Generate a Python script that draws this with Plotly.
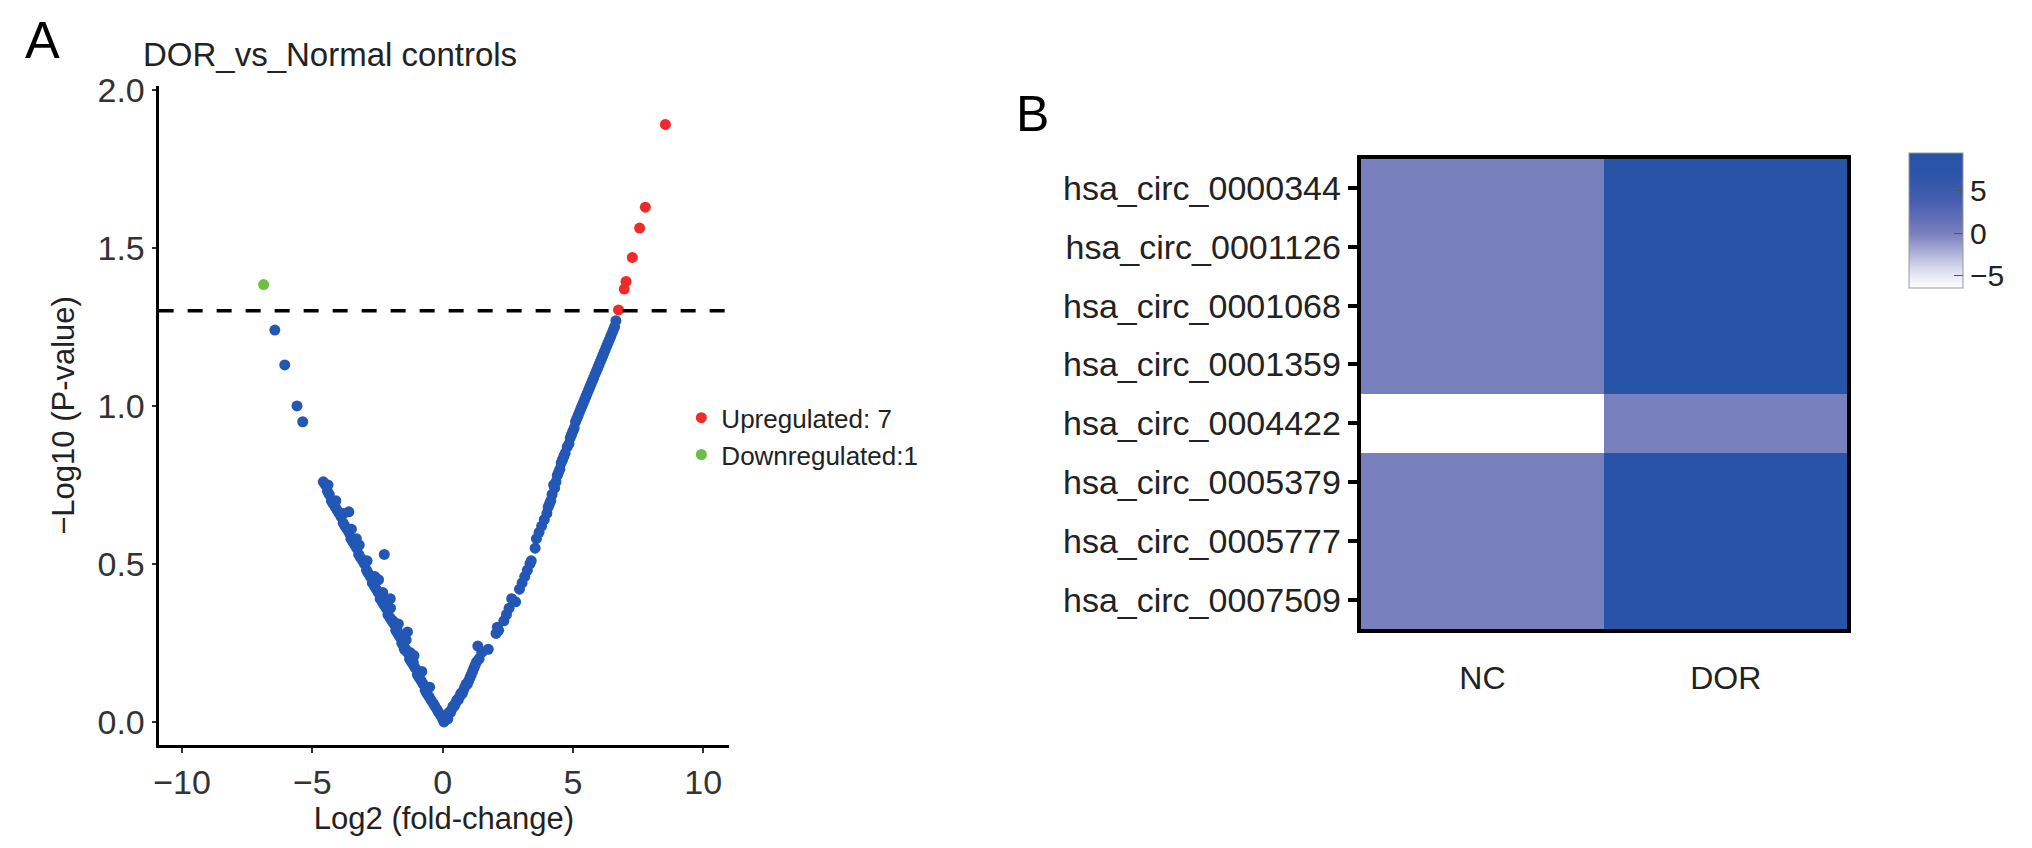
import plotly.graph_objects as go

# ---- panel A: volcano plot data (log2 fold-change, -log10 p) ----
# not significant, left arm (dense band)
left_band = [
    (-4.58, 0.76), (-4.50, 0.75), (-4.42, 0.73), (-4.35, 0.72), (-4.27, 0.70),
    (-4.20, 0.69), (-4.12, 0.68), (-4.05, 0.67), (-3.97, 0.66), (-3.90, 0.65),
    (-3.82, 0.63), (-3.75, 0.62), (-3.67, 0.61), (-3.60, 0.60), (-3.52, 0.58),
    (-3.45, 0.57), (-3.37, 0.56), (-3.30, 0.55), (-3.22, 0.53), (-3.15, 0.52),
    (-3.07, 0.51), (-3.00, 0.50), (-2.92, 0.48), (-2.85, 0.47), (-2.77, 0.46),
    (-2.70, 0.44), (-2.62, 0.43), (-2.55, 0.42), (-2.47, 0.41), (-2.40, 0.39),
    (-2.32, 0.38), (-2.25, 0.37), (-2.17, 0.36), (-2.10, 0.34), (-2.02, 0.33),
    (-1.95, 0.32), (-1.87, 0.31), (-1.80, 0.29), (-1.72, 0.28), (-1.65, 0.27),
    (-1.57, 0.25), (-1.50, 0.24), (-1.42, 0.23), (-1.35, 0.22), (-1.27, 0.20),
    (-1.20, 0.19), (-1.12, 0.18), (-1.05, 0.17), (-0.97, 0.15), (-0.90, 0.14),
    (-0.82, 0.13), (-0.75, 0.12), (-0.67, 0.10), (-0.60, 0.09), (-0.52, 0.08),
    (-0.45, 0.07), (-0.37, 0.06), (-0.30, 0.05), (-0.22, 0.04), (-0.15, 0.03),
    (-0.07, 0.02), (0.00, 0.01),
    (-4.40, 0.75), (-4.10, 0.70), (-3.80, 0.66), (-3.50, 0.61), (-3.20, 0.56),
    (-2.90, 0.51), (-2.60, 0.46), (-2.30, 0.41), (-2.00, 0.36), (-1.70, 0.31),
    (-1.40, 0.26), (-1.10, 0.21), (-0.80, 0.16), (-0.50, 0.11),
]
# scattered points above the left arm and the far-left tail
left_extra = [
    (-6.44, 1.24), (-6.06, 1.13), (-5.59, 1.00), (-5.37, 0.95),
    (-3.60, 0.665), (-3.31, 0.58), (-2.24, 0.53), (-2.46, 0.45),
    (-2.21, 0.39), (-2.01, 0.39), (-2.06, 0.36), (-1.91, 0.32),
    (-1.35, 0.285), (-1.47, 0.23), (-1.13, 0.19), (-1.75, 0.29),
    (-1.60, 0.27), (-1.25, 0.22),
]
# not significant, right arm
right_arm = [
    (0.05, 0.00), (0.10, 0.01), (0.15, 0.02), (0.20, 0.01), (0.25, 0.03),
    (0.30, 0.03), (0.35, 0.04), (0.40, 0.05), (0.45, 0.05), (0.50, 0.06),
    (0.55, 0.07), (0.60, 0.07), (0.65, 0.08), (0.70, 0.09), (0.75, 0.09),
    (0.80, 0.10), (0.85, 0.11), (0.90, 0.12), (0.95, 0.12), (1.00, 0.13),
    (1.05, 0.14), (1.10, 0.15), (1.15, 0.16), (1.20, 0.17), (1.25, 0.18),
    (1.30, 0.19), (1.35, 0.24), (1.40, 0.20), (1.50, 0.22), (1.75, 0.23),
    (2.05, 0.28), (2.10, 0.30), (2.15, 0.29), (2.35, 0.32), (2.45, 0.34),
    (2.55, 0.36), (2.65, 0.39), (2.80, 0.38), (2.95, 0.42), (3.05, 0.44),
    (3.15, 0.46), (3.25, 0.48), (3.35, 0.50), (3.40, 0.51), (3.55, 0.55),
    (3.60, 0.58), (3.70, 0.60), (3.80, 0.62), (3.90, 0.64), (4.00, 0.66),
    (4.05, 0.68), (4.10, 0.69), (4.15, 0.70), (4.20, 0.72), (4.26, 0.75),
    (4.30, 0.74), (4.35, 0.76), (4.40, 0.78), (4.45, 0.79), (4.50, 0.80),
    (4.55, 0.82), (4.60, 0.83), (4.65, 0.84), (4.70, 0.85), (4.78, 0.87),
    (4.85, 0.88), (4.90, 0.90), (4.95, 0.91), (5.00, 0.92), (5.05, 0.93),
    (5.10, 0.95), (5.15, 0.96), (5.20, 0.97), (5.25, 0.98), (5.30, 0.99),
    (5.35, 1.00), (5.40, 1.01), (5.45, 1.02), (5.50, 1.03), (5.55, 1.04),
    (5.60, 1.05), (5.65, 1.06), (5.70, 1.07), (5.75, 1.08), (5.80, 1.09),
    (5.85, 1.10), (5.90, 1.11), (5.95, 1.12), (6.00, 1.13), (6.05, 1.14),
    (6.10, 1.15), (6.15, 1.16), (6.20, 1.17), (6.25, 1.18), (6.30, 1.19),
    (6.35, 1.20), (6.40, 1.21), (6.45, 1.22), (6.50, 1.23), (6.55, 1.24),
    (6.60, 1.25), (6.65, 1.27),
]
up_fc = [6.75, 6.97, 7.04, 7.28, 7.56, 7.78, 8.55]
up_p = [1.304, 1.370, 1.394, 1.470, 1.563, 1.629, 1.891]
down_fc = [-6.87]
down_p = [1.384]

p_cutoff = 1.301  # -log10(0.05)

# ---- panel B: heatmap ----
circ_ids = ["hsa_circ_0000344", "hsa_circ_0001126", "hsa_circ_0001068",
            "hsa_circ_0001359", "hsa_circ_0004422", "hsa_circ_0005379",
            "hsa_circ_0005777", "hsa_circ_0007509"]
groups = ["NC", "DOR"]
nc_expr = [0.0, 0.0, 0.0, 0.0, -6.4, 0.0, 0.0, 0.0]
dor_expr = [8.6, 8.4, 8.4, 8.4, 0.0, 8.9, 8.9, 8.9]

FONT = "Liberation Sans, Arial, sans-serif"
W, H = 2032, 848

ns = left_band + left_extra + right_arm
ns_fc = [p[0] for p in ns]
ns_p = [p[1] for p in ns]

fig = go.Figure()

fig.add_trace(go.Scatter(
    x=ns_fc, y=ns_p, mode="markers", showlegend=False,
    marker=dict(color="#2257B5", size=11, line=dict(width=0)),
    xaxis="x", yaxis="y"))
fig.add_trace(go.Scatter(
    x=up_fc, y=up_p, mode="markers", name="Upregulated: 7",
    marker=dict(color="#EE2A2A", size=11, line=dict(width=0)),
    xaxis="x", yaxis="y"))
fig.add_trace(go.Scatter(
    x=down_fc, y=down_p, mode="markers", name="Downregulated:1",
    marker=dict(color="#6CBE45", size=11, line=dict(width=0)),
    xaxis="x", yaxis="y"))

fig.add_trace(go.Heatmap(
    x=groups, y=circ_ids,
    z=[[a, b] for a, b in zip(nc_expr, dor_expr)],
    zmin=-6.4, zmax=9.5,
    colorscale=[[0.0, "#FFFFFF"], [0.15, "#D6D8EC"], [0.40, "#7A80BE"],
                [0.62, "#4A60B2"], [0.85, "#2A55A8"], [1.0, "#2654A8"]],
    showscale=True, xaxis="x2", yaxis="y2",
    colorbar=dict(
        x=1901 / W, xanchor="left", y=1 - 132 / H, yanchor="top",
        len=137 / H, lenmode="fraction", thickness=54, xpad=0, ypad=0,
        outlinecolor="#999999", outlinewidth=1,
        tickvals=[-5, 0, 5], ticks="inside", ticklen=9, tickcolor="#555555",
        tickfont=dict(family=FONT, size=30, color="#222222"))))

fig.add_shape(type="line", xref="x domain", yref="y", x0=0, x1=1.01,
              y0=p_cutoff, y1=p_cutoff,
              line=dict(color="black", width=3.5, dash="15px,14px"))

axis_font = dict(family=FONT, size=34, color="#333333")
title_font = dict(family=FONT, size=31, color="#222222")
fig.update_layout(
    width=W, height=H, margin=dict(l=0, r=0, t=0, b=0),
    paper_bgcolor="white", plot_bgcolor="white",
    font=dict(family=FONT, color="#222222"),
    xaxis=dict(domain=[146 / W, 718 / W], range=[-10.9, 11.0],
               tickvals=[-10, -5, 0, 5, 10], showgrid=False, zeroline=False,
               showline=True, linecolor="black", linewidth=3.2,
               ticks="outside", ticklen=5, tickwidth=1.5, tickcolor="#333333",
               tickfont=axis_font,
               title=dict(text="Log2 (fold-change)", font=title_font,
                          standoff=4)),
    yaxis=dict(domain=[1 - 735 / H, 1 - 64 / H], range=[-0.073, 2.013],
               tickvals=[0, 0.5, 1.0, 1.5, 2.0], tickformat=".1f",
               showgrid=False, zeroline=False,
               showline=True, linecolor="black", linewidth=3.2,
               ticks="outside", ticklen=4, tickwidth=1.5, tickcolor="#333333",
               tickfont=axis_font,
               title=dict(text="\u2212Log10 (P-value)", font=title_font,
                          standoff=14)),
    xaxis2=dict(domain=[1351 / W, 1839 / W], anchor="y2",
                showgrid=False, zeroline=False, ticks="",
                ticklabelstandoff=18,
                showline=True, mirror=True, linecolor="black", linewidth=4,
                tickfont=dict(family=FONT, size=32, color="#222222")),
    yaxis2=dict(domain=[1 - 617 / H, 1 - 138 / H], anchor="x2",
                autorange="reversed", showgrid=False, zeroline=False,
                showline=True, mirror=True, linecolor="black", linewidth=4,
                ticks="outside", ticklen=9, tickwidth=4, tickcolor="black",
                tickfont=dict(family=FONT, size=34, color="#222222")),
    legend=dict(x=670 / W, y=1 - 378 / H, xanchor="left", yanchor="top",
                bgcolor="rgba(0,0,0,0)", tracegroupgap=0, itemwidth=30,
                font=dict(family=FONT, size=26, color="#222222")),
    annotations=[
        dict(text="A", x=10 / W, y=1 + 14 / H, xref="paper", yref="paper",
             xanchor="left", yanchor="top", showarrow=False,
             font=dict(family=FONT, size=52, color="black")),
        dict(text="B", x=1003 / W, y=1 - 62 / H, xref="paper", yref="paper",
             xanchor="left", yanchor="top", showarrow=False,
             font=dict(family=FONT, size=50, color="black")),
        dict(text="DOR_vs_Normal controls", x=128 / W, y=1 - 32 / H,
             xref="paper", yref="paper", xanchor="left", yanchor="middle",
             showarrow=False,
             font=dict(family=FONT, size=33, color="#222222")),
    ],
)

fig.write_html("out.html")
